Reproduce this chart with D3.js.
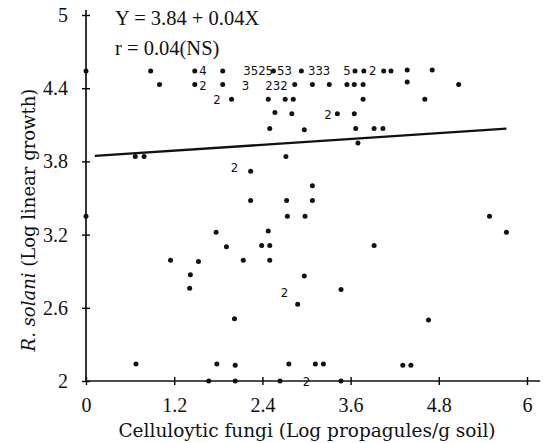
<!DOCTYPE html>
<html>
<head>
<meta charset="utf-8">
<script src="https://cdn.jsdelivr.net/npm/d3@7"></script>
<style>
  body { margin: 0; background: #fff; }
  svg { display: block; font-family: "Liberation Serif", serif; }
</style>
</head>
<body>
<svg id="chart" width="547" height="443"></svg>
<script>
// ticks
const xTicks = [0, 1.2, 2.4, 3.6, 4.8, 6];
const yTicks = [2, 2.6, 3.2, 3.8, 4.4, 5];

// points (log propagules, log linear growth)
const fungi = [
  0, 0.88, 1.48, 1.86, 2.55, 2.93, 3.66, 3.78, 4.05, 4.15, 4.37, 4.71,
  1.0, 1.48, 1.86, 2.84, 3.08, 3.31, 3.55, 3.65, 3.77, 4.37, 5.07,
  1.98, 2.48, 2.71, 2.82, 3.77, 4.61,
  2.57, 2.8, 3.42, 3.65,
  2.5, 2.97, 3.67, 3.92, 4.04,
  3.7, 0.67, 0.79, 2.72, 2.24, 3.08, 2.24, 2.73, 3.08,
  0, 2.74, 2.98, 5.49, 1.77, 2.48, 5.72,
  1.91, 2.39, 2.5, 3.92, 1.15, 1.53, 2.14, 2.5,
  1.42, 2.97, 1.41, 3.47, 2.88, 2.02, 4.66,
  0.68, 1.78, 2.03, 2.76, 3.12, 3.23, 4.31, 4.42,
  1.67, 2.03, 2.64, 3.47
];
const growth = [
  4.54, 4.54, 4.54, 4.54, 4.54, 4.54, 4.54, 4.54, 4.54, 4.54, 4.55, 4.55,
  4.43, 4.43, 4.43, 4.43, 4.43, 4.43, 4.43, 4.43, 4.43, 4.45, 4.43,
  4.31, 4.31, 4.31, 4.31, 4.31, 4.31,
  4.2, 4.19, 4.19, 4.19,
  4.07, 4.06, 4.07, 4.07, 4.07,
  3.95, 3.84, 3.84, 3.84, 3.72, 3.6, 3.48, 3.48, 3.48,
  3.35, 3.35, 3.35, 3.35, 3.22, 3.23, 3.22,
  3.1, 3.11, 3.11, 3.11, 2.99, 2.98, 2.99, 2.99,
  2.87, 2.86, 2.76, 2.75, 2.63, 2.51, 2.5,
  2.14, 2.14, 2.13, 2.14, 2.14, 2.14, 2.13, 2.13,
  2.0, 2.0, 2.0, 2.0
];

// numbers printed beside coincident points
const countText = ["4", "3525", "53", "333", "5", "2", "2", "3", "232", "2", "2", "2", "2", "2"];
const countX = [1.54, 2.14, 2.6, 3.02, 3.5, 3.85, 1.54, 2.12, 2.44, 1.73, 1.97, 2.65, 3.24, 2.95];
const countY = [4.55, 4.55, 4.55, 4.55, 4.55, 4.55, 4.42, 4.42, 4.42, 4.31, 3.75, 2.73, 4.19, 2.0];

// regression Y = 3.84 + 0.04X
const fitIntercept = 3.84, fitSlope = 0.04;
const fitRange = [0.12, 5.72];

const svg = d3.select("#chart");

const x = d3.scaleLinear().domain([0, 6]).range([86, 527]);
const y = d3.scaleLinear().domain([2, 5]).range([381, 15]);

//axes
const xAxis = svg.append("g")
  .attr("transform", "translate(0," + y(2) + ")")
  .call(d3.axisBottom(x).tickValues(xTicks).tickFormat(d3.format("")).tickSizeOuter(0).tickPadding(11));
xAxis.select(".domain").remove();
xAxis.selectAll(".tick line").attr("y1", -4).attr("y2", 4).attr("stroke-width", 1.4);
xAxis.selectAll(".tick text").attr("font-size", 20).attr("font-family", "Liberation Serif").attr("fill", "#111");

const yAxis = svg.append("g")
  .attr("transform", "translate(" + x(0) + ",0)")
  .call(d3.axisLeft(y).tickValues(yTicks).tickFormat(d3.format("")).tickSizeOuter(0).tickPadding(12));
yAxis.select(".domain").remove();
yAxis.selectAll(".tick line").attr("x1", -4).attr("x2", 4).attr("stroke-width", 1.4);
yAxis.selectAll(".tick text").attr("font-size", 20).attr("font-family", "Liberation Serif").attr("fill", "#111");

svg.append("line")
  .attr("x1", x(0)).attr("x2", x(6.18))
  .attr("y1", y(2)).attr("y2", y(2))
  .attr("stroke", "#111").attr("stroke-width", 1.7);
svg.append("line")
  .attr("x1", x(0)).attr("x2", x(0))
  .attr("y1", y(2)).attr("y2", y(5.04))
  .attr("stroke", "#111").attr("stroke-width", 1.7);

// fit line
const line = d3.line().x(d => x(d)).y(d => y(fitIntercept + fitSlope * d));
svg.append("path")
  .datum(fitRange)
  .attr("d", line)
  .attr("fill", "none")
  .attr("stroke", "#111")
  .attr("stroke-width", 2.3);

// points
svg.append("g").selectAll("circle")
  .data(fungi)
  .enter()
  .append("circle")
  .attr("cx", (d, i) => x(d))
  .attr("cy", (d, i) => y(growth[i]))
  .attr("r", 2.5)
  .attr("fill", "#111");

svg.append("g").selectAll("text")
  .data(countText)
  .enter()
  .append("text")
  .attr("x", (d, i) => x(countX[i]))
  .attr("y", (d, i) => y(countY[i]))
  .attr("dy", "0.36em")
  .attr("font-size", 13)
  .attr("font-family", "'DejaVu Sans Condensed', 'Liberation Sans Narrow', sans-serif")
  .attr("fill", "#111")
  .text(d => d);

// equation
svg.append("text").attr("x", 115).attr("y", 25).attr("font-size", 20.5).attr("fill", "#111").text("Y = 3.84 + 0.04X");
svg.append("text").attr("x", 115).attr("y", 55).attr("font-size", 20.5).attr("fill", "#111").text("r = 0.04(NS)");

// axis titles
svg.append("text")
  .attr("x", 307).attr("y", 437)
  .attr("text-anchor", "middle")
  .attr("font-size", 18.5)
  .attr("font-family", "DejaVu Serif")
  .attr("fill", "#111")
  .text("Celluloytic fungi (Log propagules/g soil)");

const yTitle = svg.append("text")
  .attr("transform", "translate(35,220) rotate(-90)")
  .attr("text-anchor", "middle")
  .attr("font-size", 18)
  .attr("font-family", "DejaVu Serif")
  .attr("fill", "#111");
yTitle.append("tspan").attr("font-style", "italic").text("R. solani");
yTitle.append("tspan").text(" (Log linear growth)");
</script>
</body>
</html>
